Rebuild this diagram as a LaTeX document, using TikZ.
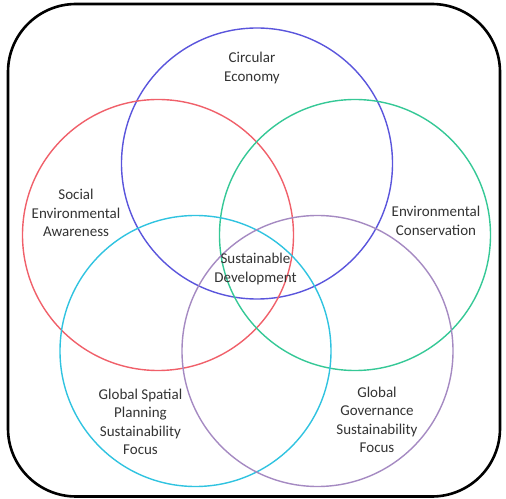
\documentclass[tikz,border=0pt]{standalone}
\usepackage{fontspec}
\setmainfont{Carlito}
\definecolor{cblue}{HTML}{5A55DC}
\definecolor{cred}{HTML}{F0606A}
\definecolor{cgreen}{HTML}{35C896}
\definecolor{ccyan}{HTML}{30C3E0}
\definecolor{cpurple}{HTML}{A58AC2}
\definecolor{ctext}{HTML}{333333}
\begin{document}
\begin{tikzpicture}[x=1pt,y=1pt,
  ring/.style={line width=1.4pt},
  lbl/.style={align=center,font=\fontsize{15}{18.5}\selectfont,text=ctext,inner sep=0pt}]
\useasboundingbox (0,0) rectangle (506,498);
\draw[line width=2.6pt,rounded corners=68pt] (8,1.5) rectangle (500,494);
\draw[ring,cblue]   (257,334.5) circle (135.5);
\draw[ring,cred]    (158,263) circle (135.5);
\draw[ring,cgreen]  (355,263) circle (135.5);
\draw[ring,ccyan]   (195.5,147) circle (135.5);
\draw[ring,cpurple] (317.5,147) circle (135.5);
\node[lbl] (ce) at (252,430) {Circular\\Economy};
\node[lbl] (se) at (76,285) {Social\\Environmental\\Awareness};
\node[lbl] (ec) at (436,277) {Environmental\\Conservation};
\node[lbl] (sd) at (255.5,229) {Sustainable\\Development};
\node[lbl] (gs) at (140.5,76) {Global Spatial\\Planning\\Sustainability\\Focus};
\node[lbl] (gg) at (377,78) {Global\\Governance\\Sustainability\\Focus};
\end{tikzpicture}
\end{document}
